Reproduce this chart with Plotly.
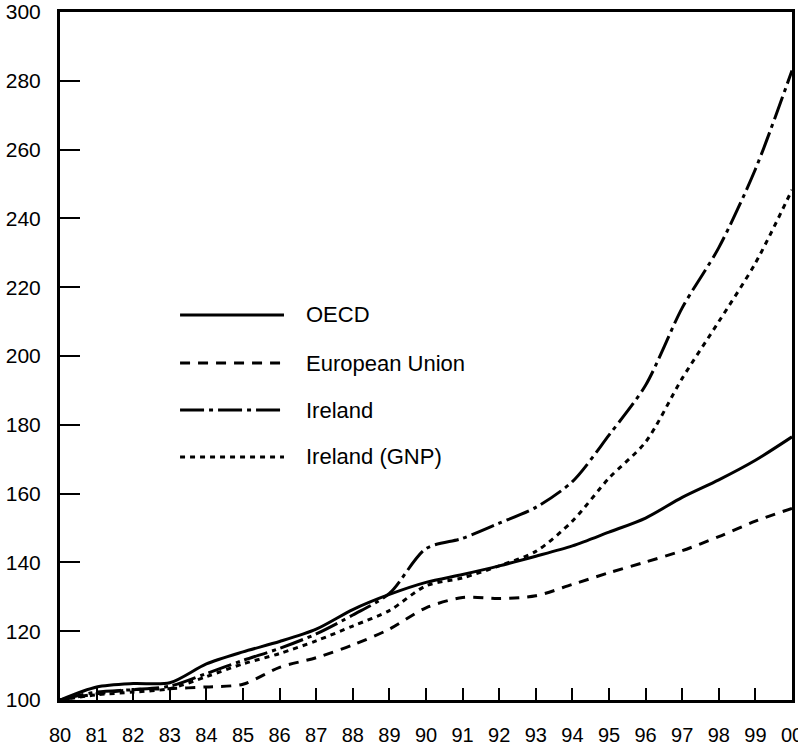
import plotly.graph_objects as go

years = list(range(1980, 2001))
tick_labels = ["80", "81", "82", "83", "84", "85", "86", "87", "88", "89",
               "90", "91", "92", "93", "94", "95", "96", "97", "98", "99", "00"]

oecd = [100, 103.8, 104.8, 105.0, 110.5, 114.0, 117.0, 120.6, 126.3, 130.7,
        134.2, 136.5, 139.0, 141.8, 144.8, 148.8, 152.9, 158.9, 164.0, 169.7, 176.5]
eu = [100, 101.8, 103.0, 103.3, 103.8, 104.6, 109.5, 112.3, 116.0, 120.6,
      126.8, 129.8, 129.5, 130.3, 133.6, 137.0, 140.1, 143.4, 147.5, 152.0, 155.7]
ireland = [100, 102.3, 103.0, 104.0, 107.7, 111.5, 115.0, 119.2, 124.7, 131.0,
           144.0, 147.0, 151.4, 156.0, 163.5, 177.0, 191.5, 214.0, 231.5, 254.3, 283.0]
ireland_gnp = [100, 101.5, 102.3, 103.3, 106.8, 110.5, 113.5, 117.2, 121.5, 126.0,
               133.2, 135.5, 139.0, 143.2, 152.0, 164.5, 175.0, 193.5, 210.0, 227.0, 248.3]

series_names = ["OECD", "European Union", "Ireland", "Ireland (GNP)"]
series_values = [oecd, eu, ireland, ireland_gnp]
dashes = ["solid", "10px,8px", "24px,5px,4px,5px", "5px,5px"]

FONT = "Liberation Sans, Arial, Helvetica, sans-serif"

fig = go.Figure()
for name, vals, d in zip(series_names, series_values, dashes):
    fig.add_trace(go.Scatter(
        x=years, y=vals, mode="lines", name=name,
        line=dict(color="black", width=3, dash=d, shape="spline", smoothing=0.8),
        showlegend=False, cliponaxis=True, hoverinfo="skip",
    ))

# custom legend (long sample lines as in the original)
legend_y = [0.5596, 0.4898, 0.4215, 0.3532]
for name, d, yy in zip(series_names, dashes, legend_y):
    fig.add_shape(type="line", xref="paper", yref="paper",
                  x0=0.164, x1=0.306, y0=yy, y1=yy,
                  line=dict(color="black", width=3, dash=d))
    fig.add_annotation(xref="paper", yref="paper", x=0.333, y=yy,
                       text=name, showarrow=False, xanchor="left", yanchor="middle",
                       font=dict(family=FONT, size=22, color="black"))

fig.update_layout(
    width=798, height=747,
    margin=dict(l=60, r=6, t=12, b=47, autoexpand=False),
    plot_bgcolor="white", paper_bgcolor="white",
    font=dict(family=FONT, size=20, color="black"),
    xaxis=dict(
        range=[1980, 2000], tickmode="array", tickvals=years, ticktext=tick_labels,
        ticks="inside", ticklen=12, tickwidth=2, tickcolor="black",
        showline=True, linewidth=3, linecolor="black", mirror=True,
        showgrid=False, zeroline=False, tickfont=dict(size=20),
        ticklabelstandoff=15, automargin=False, ticklabeloverflow="allow",
    ),
    yaxis=dict(
        range=[100, 300], tickmode="array", tickvals=list(range(100, 301, 20)),
        ticks="inside", ticklen=20, tickwidth=2, tickcolor="black",
        showline=True, linewidth=3, linecolor="black", mirror=True,
        showgrid=False, zeroline=False, tickfont=dict(size=21),
        ticklabelstandoff=12, automargin=False, ticklabeloverflow="allow",
    ),
)

fig.write_html("out.html",
               config={"displayModeBar": False, "staticPlot": True},
               post_script="document.body.style.margin='0';document.body.style.overflow='hidden';")
